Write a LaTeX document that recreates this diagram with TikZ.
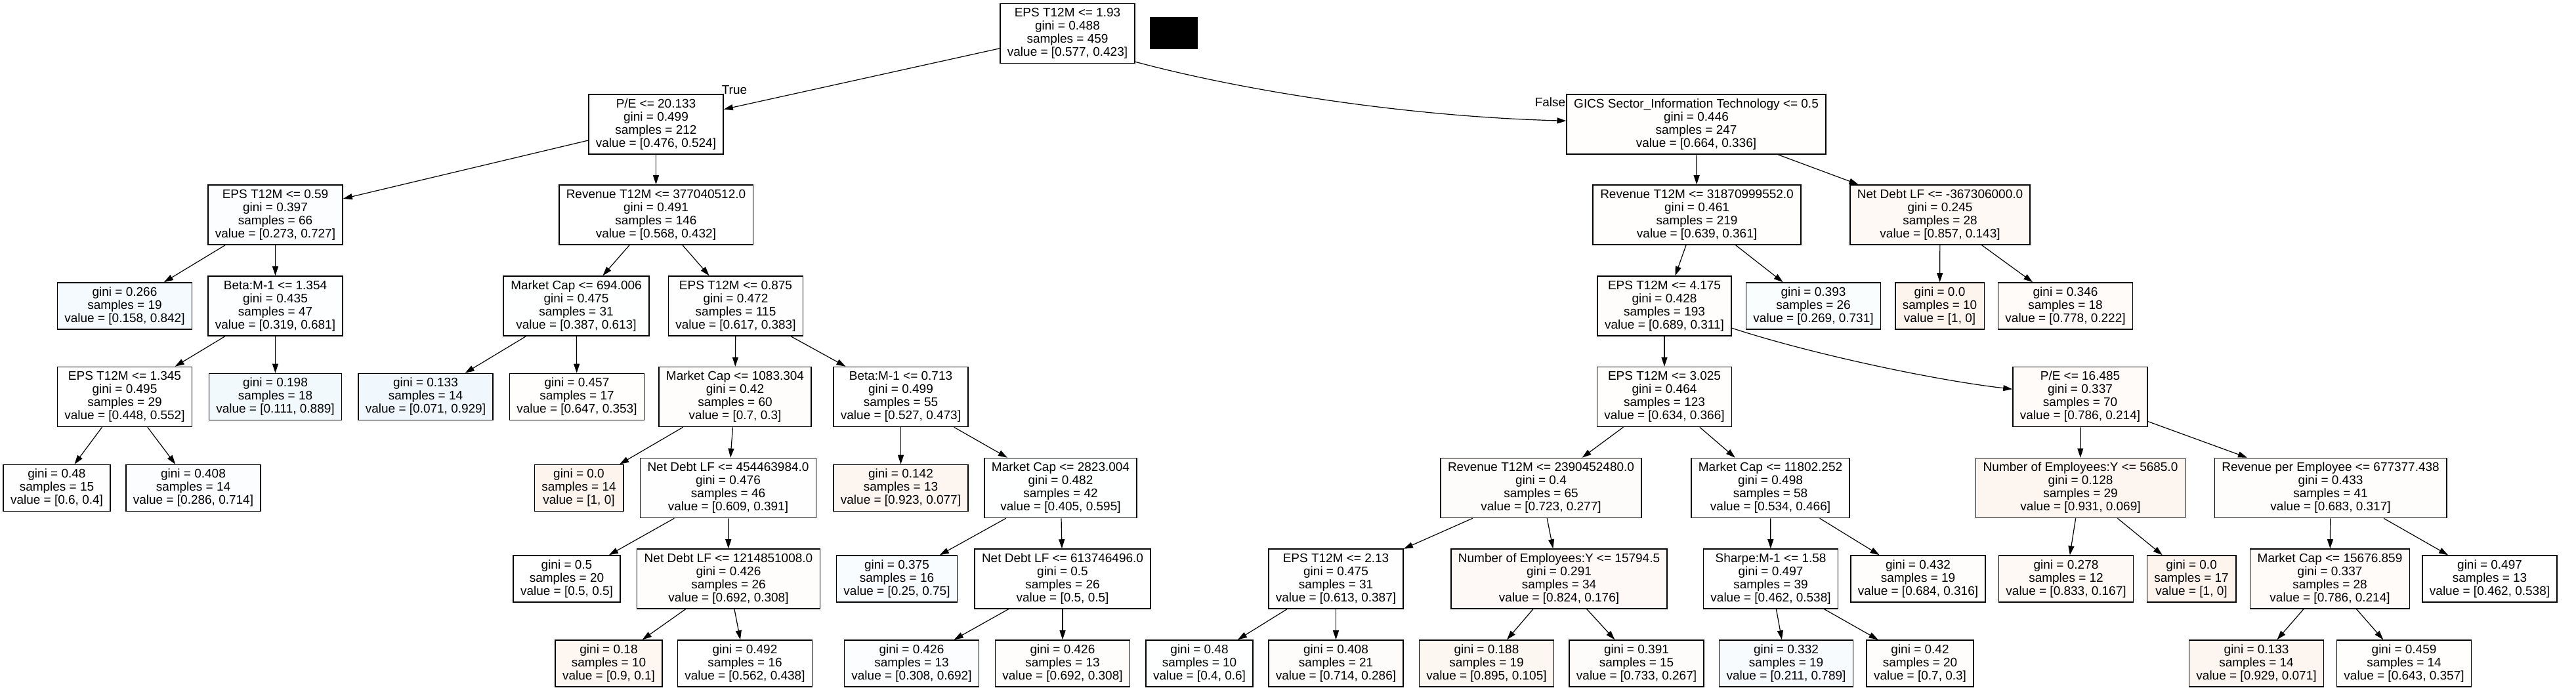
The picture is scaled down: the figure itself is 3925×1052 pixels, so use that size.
\documentclass[tikz,border=0pt]{standalone}
\usepackage{fontspec}
\setmainfont{Liberation Sans}
\usetikzlibrary{arrows.meta}
\definecolor{orng}{RGB}{229,129,57}
\definecolor{blu}{RGB}{57,157,229}
\newcommand\tfont{\fontsize{5.4pt}{5.69pt}\selectfont}
\tikzset{
  box/.style={draw=black, line width=0.015cm, rectangle, align=center, inner xsep=0.11cm, inner ysep=0cm, font=\tfont, fill=white},
  inner4/.style={box, minimum height=0.91cm},
  leaf/.style={box, minimum height=0.71cm},
  otint/.style={fill=orng!#1!white},
  btint/.style={fill=blu!#1!white},
  edge/.style={-{Triangle[length=0.14cm,width=0.09cm]}, line width=0.012cm, black},
  lab/.style={font=\tfont, inner sep=0pt}
}
\begin{document}
\begin{tikzpicture}[x=0.01cm, y=-0.01cm]
\useasboundingbox[fill=white] (0,0) rectangle (3925,1052);
% row 0
\node[inner4] (root) at (1626.5,51) {EPS T12M <= 1.93\\gini = 0.488\\samples = 459\\value = [0.577, 0.423]};
\node[fill=black, minimum width=0.73cm, minimum height=0.49cm, inner sep=0pt] (blk) at (1788.5,50.5) {};
% row 1
\node[inner4] (pe1) at (999.5,189.5) {P/E <= 20.133\\gini = 0.499\\samples = 212\\value = [0.476, 0.524]};
\node[inner4, otint=1] (gics) at (2584.5,189.5) {GICS Sector\_Information Technology <= 0.5\\gini = 0.446\\samples = 247\\value = [0.664, 0.336]};
% row 2
\node[inner4, btint=2] (eps059) at (419.5,327.5) {EPS T12M <= 0.59\\gini = 0.397\\samples = 66\\value = [0.273, 0.727]};
\node[inner4] (rev377) at (999.5,327.5) {Revenue T12M <= 377040512.0\\gini = 0.491\\samples = 146\\value = [0.568, 0.432]};
\node[inner4, otint=1] (rev318) at (2585.5,327.5) {Revenue T12M <= 31870999552.0\\gini = 0.461\\samples = 219\\value = [0.639, 0.361]};
\node[inner4, otint=5] (nd367) at (2956,327.5) {Net Debt LF <= -367306000.0\\gini = 0.245\\samples = 28\\value = [0.857, 0.143]};
% row 3
\node[leaf, btint=5] (l266) at (190,466.5) {gini = 0.266\\samples = 19\\value = [0.158, 0.842]};
\node[inner4, btint=1.5] (beta1354) at (419.5,466.5) {Beta:M-1 <= 1.354\\gini = 0.435\\samples = 47\\value = [0.319, 0.681]};
\node[inner4, btint=0.5] (mc694) at (878,466.5) {Market Cap <= 694.006\\gini = 0.475\\samples = 31\\value = [0.387, 0.613]};
\node[inner4, otint=0.5] (eps0875) at (1121,466.5) {EPS T12M <= 0.875\\gini = 0.472\\samples = 115\\value = [0.617, 0.383]};
\node[inner4, otint=1.7] (eps4175) at (2536,466.5) {EPS T12M <= 4.175\\gini = 0.428\\samples = 193\\value = [0.689, 0.311]};
\node[leaf, btint=2.5] (l393) at (2763,466.5) {gini = 0.393\\samples = 26\\value = [0.269, 0.731]};
\node[leaf, otint=9] (l0a) at (2955.5,466.5) {gini = 0.0\\samples = 10\\value = [1, 0]};
\node[leaf, otint=3.5] (l346) at (3147,466.5) {gini = 0.346\\samples = 18\\value = [0.778, 0.222]};
% row 4
\node[inner4] (eps1345) at (190,605) {EPS T12M <= 1.345\\gini = 0.495\\samples = 29\\value = [0.448, 0.552]};
\node[leaf, btint=6.5] (l198) at (419.5,605) {gini = 0.198\\samples = 18\\value = [0.111, 0.889]};
\node[leaf, btint=7.5] (l133) at (648.5,605) {gini = 0.133\\samples = 14\\value = [0.071, 0.929]};
\node[leaf, otint=0.9] (l457) at (879,605) {gini = 0.457\\samples = 17\\value = [0.647, 0.353]};
\node[inner4, otint=1.9] (mc1083) at (1120,605) {Market Cap <= 1083.304\\gini = 0.42\\samples = 60\\value = [0.7, 0.3]};
\node[inner4] (beta0713) at (1372.5,605) {Beta:M-1 <= 0.713\\gini = 0.499\\samples = 55\\value = [0.527, 0.473]};
\node[inner4, otint=0.8] (eps3025) at (2536,605) {EPS T12M <= 3.025\\gini = 0.464\\samples = 123\\value = [0.634, 0.366]};
\node[inner4, otint=3.5] (pe16) at (3169.5,605) {P/E <= 16.485\\gini = 0.337\\samples = 70\\value = [0.786, 0.214]};
% row 5
\node[leaf, otint=0.4] (l48) at (86.5,744) {gini = 0.48\\samples = 15\\value = [0.6, 0.4]};
\node[leaf, btint=2.1] (l408) at (294.5,744) {gini = 0.408\\samples = 14\\value = [0.286, 0.714]};
\node[leaf, otint=9] (l0b) at (882,744) {gini = 0.0\\samples = 14\\value = [1, 0]};
\node[inner4, otint=0.5] (nd454) at (1109.5,744) {Net Debt LF <= 454463984.0\\gini = 0.476\\samples = 46\\value = [0.609, 0.391]};
\node[leaf, otint=7.5] (l142) at (1372.5,744) {gini = 0.142\\samples = 13\\value = [0.923, 0.077]};
\node[inner4, btint=0.3] (mc2823) at (1616,744) {Market Cap <= 2823.004\\gini = 0.482\\samples = 42\\value = [0.405, 0.595]};
\node[inner4, otint=2.3] (rev239) at (2348,744) {Revenue T12M <= 2390452480.0\\gini = 0.4\\samples = 65\\value = [0.723, 0.277]};
\node[inner4] (mc11802) at (2697.5,744) {Market Cap <= 11802.252\\gini = 0.498\\samples = 58\\value = [0.534, 0.466]};
\node[inner4, otint=7.5] (ne5685) at (3170,744) {Number of Employees:Y <= 5685.0\\gini = 0.128\\samples = 29\\value = [0.931, 0.069]};
\node[inner4, otint=1.5] (rpe) at (3551,744) {Revenue per Employee <= 677377.438\\gini = 0.433\\samples = 41\\value = [0.683, 0.317]};
% row 6
\node[leaf] (l05) at (863.5,882.5) {gini = 0.5\\samples = 20\\value = [0.5, 0.5]};
\node[inner4, otint=1.7] (nd1214) at (1110,882.5) {Net Debt LF <= 1214851008.0\\gini = 0.426\\samples = 26\\value = [0.692, 0.308]};
\node[leaf, btint=3] (l375) at (1366.5,882.5) {gini = 0.375\\samples = 16\\value = [0.25, 0.75]};
\node[inner4] (nd613) at (1619,882.5) {Net Debt LF <= 613746496.0\\gini = 0.5\\samples = 26\\value = [0.5, 0.5]};
\node[inner4, otint=0.5] (eps213) at (2035.5,882.5) {EPS T12M <= 2.13\\gini = 0.475\\samples = 31\\value = [0.613, 0.387]};
\node[inner4, otint=4.5] (ne15794) at (2375.5,882.5) {Number of Employees:Y <= 15794.5\\gini = 0.291\\samples = 34\\value = [0.824, 0.176]};
\node[inner4] (sharpe) at (2698,882.5) {Sharpe:M-1 <= 1.58\\gini = 0.497\\samples = 39\\value = [0.462, 0.538]};
\node[leaf, otint=1.6] (l432) at (2922.5,882.5) {gini = 0.432\\samples = 19\\value = [0.684, 0.316]};
\node[leaf, otint=5] (l278) at (3148,882.5) {gini = 0.278\\samples = 12\\value = [0.833, 0.167]};
\node[leaf, otint=9] (l0c) at (3339,882.5) {gini = 0.0\\samples = 17\\value = [1, 0]};
\node[inner4, otint=3.5] (mc15676) at (3550,882.5) {Market Cap <= 15676.859\\gini = 0.337\\samples = 28\\value = [0.786, 0.214]};
\node[leaf] (l497) at (3793.5,882.5) {gini = 0.497\\samples = 13\\value = [0.462, 0.538]};
% row 7
\node[leaf, otint=7] (l18) at (927.5,1011.5) {gini = 0.18\\samples = 10\\value = [0.9, 0.1]};
\node[leaf] (l492) at (1135,1011.5) {gini = 0.492\\samples = 16\\value = [0.562, 0.438]};
\node[leaf, btint=1.7] (l426a) at (1389,1011.5) {gini = 0.426\\samples = 13\\value = [0.308, 0.692]};
\node[leaf, otint=1.7] (l426b) at (1619,1011.5) {gini = 0.426\\samples = 13\\value = [0.692, 0.308]};
\node[leaf, btint=0.4] (l48b) at (1827.5,1011.5) {gini = 0.48\\samples = 10\\value = [0.4, 0.6]};
\node[leaf, otint=2.1] (l408b) at (2035.5,1011.5) {gini = 0.408\\samples = 21\\value = [0.714, 0.286]};
\node[leaf, otint=6.5] (l188) at (2265,1011.5) {gini = 0.188\\samples = 19\\value = [0.895, 0.105]};
\node[leaf, otint=2.6] (l391) at (2493.5,1011.5) {gini = 0.391\\samples = 15\\value = [0.733, 0.267]};
\node[leaf, btint=3.9] (l332) at (2721.5,1011.5) {gini = 0.332\\samples = 19\\value = [0.211, 0.789]};
\node[leaf, otint=1.9] (l42) at (2925.5,1011.5) {gini = 0.42\\samples = 20\\value = [0.7, 0.3]};
\node[leaf, otint=7.5] (l133b) at (3438,1011.5) {gini = 0.133\\samples = 14\\value = [0.929, 0.071]};
\node[leaf, otint=0.9] (l459) at (3663,1011.5) {gini = 0.459\\samples = 14\\value = [0.643, 0.357]};
% labels
\node[lab] (tlab) at (1119,137) {True};
\node[lab] (flab) at (2362,156) {False};
% edges
\draw[edge] (root) -- (pe1);
\draw[edge] ([yshift=0.03cm]root.south east) .. controls (1900,140) and (2150,178) .. (gics);
\draw[edge] (eps4175) .. controls (2760,540) and (2950,580) .. (pe16);
\foreach \a/\b in {pe1/eps059, pe1/rev377, gics/rev318, gics/nd367,
  eps059/l266, eps059/beta1354, rev377/mc694, rev377/eps0875,
  rev318/eps4175, rev318/l393, nd367/l0a, nd367/l346,
  beta1354/eps1345, beta1354/l198, mc694/l133, mc694/l457,
  eps0875/mc1083, eps0875/beta0713, eps4175/eps3025,
  eps1345/l48, eps1345/l408, mc1083/l0b, mc1083/nd454,
  beta0713/l142, beta0713/mc2823, eps3025/rev239, eps3025/mc11802,
  pe16/ne5685, pe16/rpe, nd454/l05, nd454/nd1214,
  mc2823/l375, mc2823/nd613, rev239/eps213, rev239/ne15794,
  mc11802/sharpe, mc11802/l432, ne5685/l278, ne5685/l0c,
  rpe/mc15676, rpe/l497, nd1214/l18, nd1214/l492,
  nd613/l426a, nd613/l426b, eps213/l48b, eps213/l408b,
  ne15794/l188, ne15794/l391, sharpe/l332, sharpe/l42,
  mc15676/l133b, mc15676/l459}
  \draw[edge] (\a) -- (\b);
\end{tikzpicture}
\end{document}
